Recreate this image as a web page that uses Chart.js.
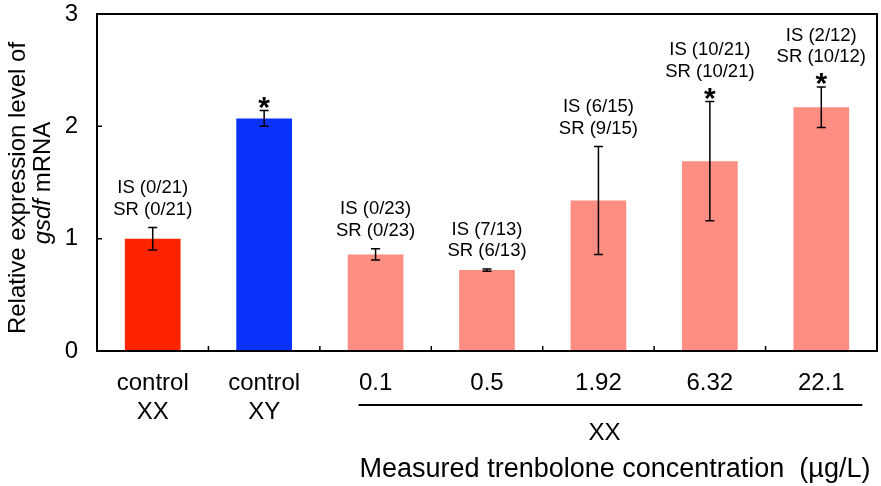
<!DOCTYPE html>
<html>
<head>
<meta charset="utf-8">
<script src="https://cdn.jsdelivr.net/npm/chart.js@4/dist/chart.umd.min.js"></script>
<style>
  html, body { margin: 0; padding: 0; background: #fff; }
  #chart { display: block; }
</style>
</head>
<body>
<canvas id="chart" width="881" height="486"></canvas>
<script>
// ---- data ----
const categories = [['control', 'XX'], ['control', 'XY'], '0.1', '0.5', '1.92', '6.32', '22.1'];
const expression = [1.00, 2.07, 0.86, 0.72, 1.34, 1.69, 2.17];
const errors     = [0.10, 0.07, 0.05, 0.01, 0.48, 0.53, 0.18];
const isLabels   = ['IS (0/21)', null, 'IS (0/23)', 'IS (7/13)', 'IS (6/15)', 'IS (10/21)', 'IS (2/12)'];
const srLabels   = ['SR (0/21)', null, 'SR (0/23)', 'SR (6/13)', 'SR (9/15)', 'SR (10/21)', 'SR (10/12)'];
const significant = [false, true, false, false, false, true, true];
const yTicks = [0, 1, 2, 3];

const barColors = ['#ff2400', '#0a32ff', '#ff8e82', '#ff8e82', '#ff8e82', '#ff8e82', '#ff8e82'];
const FONT = '"Liberation Sans", Arial, Helvetica, sans-serif';

const extras = {
  id: 'extras',
  afterDatasetsDraw(chart) {
    const ctx = chart.ctx;
    const area = chart.chartArea;
    const xs = chart.scales.x, ys = chart.scales.y;
    const meta = chart.getDatasetMeta(0);
    ctx.save();

    // frame
    ctx.strokeStyle = '#000';
    ctx.lineWidth = 2;
    ctx.strokeRect(area.left, area.top, area.right - area.left, area.bottom - area.top);

    // inward ticks: y at 1 and 2, x at category boundaries
    ctx.lineWidth = 1.5;
    ctx.beginPath();
    [1, 2].forEach(v => {
      const y = ys.getPixelForValue(v);
      ctx.moveTo(area.left, y); ctx.lineTo(area.left + 5, y);
    });
    for (let i = 0; i < categories.length - 1; i++) {
      const x = (xs.getPixelForValue(i) + xs.getPixelForValue(i + 1)) / 2;
      ctx.moveTo(x, area.bottom); ctx.lineTo(x, area.bottom - 5);
    }
    ctx.stroke();

    // error bars, asterisks, IS/SR counts
    meta.data.forEach((bar, i) => {
      const x = bar.x;
      const yHi = ys.getPixelForValue(expression[i] + errors[i]);
      const yLo = ys.getPixelForValue(expression[i] - errors[i]);
      ctx.strokeStyle = '#000';
      ctx.lineWidth = 1.5;
      ctx.beginPath();
      ctx.moveTo(x, yHi); ctx.lineTo(x, yLo);
      ctx.moveTo(x - 4.5, yHi); ctx.lineTo(x + 4.5, yHi);
      ctx.moveTo(x - 4.5, yLo); ctx.lineTo(x + 4.5, yLo);
      ctx.stroke();

      ctx.fillStyle = '#000';
      ctx.textAlign = 'center';
      ctx.textBaseline = 'middle';
      let yText = yHi;
      if (significant[i]) {
        ctx.font = 'bold 30px ' + FONT;
        ctx.fillText('*', x, yHi - 2);
        yText = yHi - 9 - 21;
      } else {
        yText = yHi - 18;
      }
      if (srLabels[i]) {
        ctx.font = '18.5px ' + FONT;
        ctx.fillText(srLabels[i], x, yText);
        ctx.fillText(isLabels[i], x, yText - 21.5);
      }
    });

    // group bracket for XX treatment
    const x2 = xs.getPixelForValue(2), x6 = xs.getPixelForValue(6);
    ctx.lineWidth = 2;
    ctx.beginPath();
    ctx.moveTo(x2 - 17, 405); ctx.lineTo(x6 + 41, 405);
    ctx.stroke();
    ctx.font = '24px ' + FONT;
    ctx.textAlign = 'center';
    ctx.fillText('XX', (x2 + x6) / 2 + 6, 433);

    ctx.textAlign = 'left';
    ctx.font = '27px ' + FONT;
    ctx.fillText('Measured trenbolone concentration  (\u00b5g/L)', x2 - 16, 470);

    // y axis title (two lines, gsdf in italics)
    ctx.save();
    ctx.translate(18, 188);
    ctx.rotate(-Math.PI / 2);
    ctx.textAlign = 'center';
    ctx.font = '24px ' + FONT;
    ctx.fillText('Relative expression level of', 0, 0);
    ctx.restore();
    ctx.save();
    ctx.translate(43, 183);
    ctx.rotate(-Math.PI / 2);
    ctx.textAlign = 'left';
    const italic = 'italic 24px ' + FONT, normal = '24px ' + FONT;
    ctx.font = italic;
    const w1 = ctx.measureText('gsdf').width;
    ctx.font = normal;
    const w2 = ctx.measureText(' mRNA').width;
    const start = -(w1 + w2) / 2;
    ctx.font = italic;
    ctx.fillText('gsdf', start, 0);
    ctx.font = normal;
    ctx.fillText(' mRNA', start + w1, 0);
    ctx.restore();

    ctx.restore();
  }
};

new Chart(document.getElementById('chart'), {
  type: 'bar',
  data: {
    labels: categories,
    datasets: [{
      data: expression,
      backgroundColor: barColors,
      borderWidth: 0,
      categoryPercentage: 1.0,
      barPercentage: 0.5
    }]
  },
  options: {
    responsive: false,
    animation: false,
    events: [],
    layout: { padding: { top: 14, right: 4, left: 0, bottom: 0 } },
    plugins: { legend: { display: false }, tooltip: { enabled: false } },
    scales: {
      x: {
        grid: { display: false, drawTicks: false },
        border: { display: false },
        ticks: {
          color: '#000',
          font: { family: FONT, size: 24, lineHeight: 1.2 },
          padding: 18,
          maxRotation: 0,
          autoSkip: false
        },
        afterFit: s => { s.height = 135; s.paddingLeft = 0; s.paddingRight = 0; }
      },
      y: {
        min: 0,
        max: 3,
        grid: { display: false, drawTicks: false },
        border: { display: false },
        afterBuildTicks: s => { s.ticks = yTicks.map(v => ({ value: v })); },
        ticks: {
          color: '#000',
          font: { family: FONT, size: 24 },
          padding: 19
        },
        afterFit: s => { s.width = 97; s.paddingTop = 0; s.paddingBottom = 0; }
      }
    }
  },
  plugins: [extras]
});
</script>
</body>
</html>
